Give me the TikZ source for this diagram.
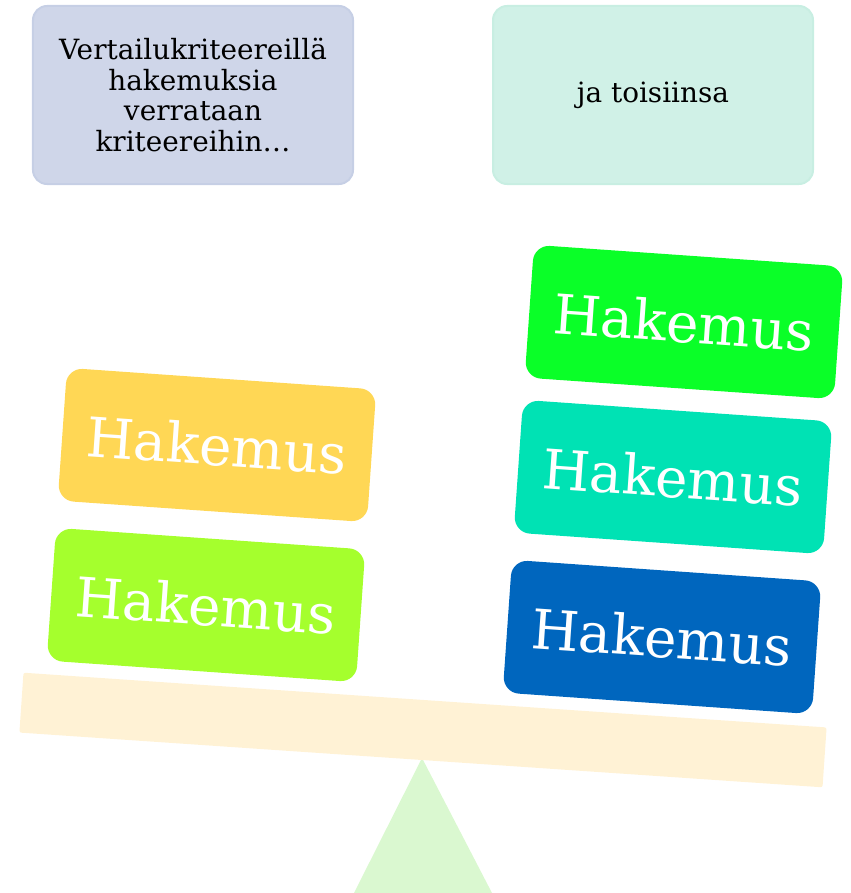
\documentclass[tikz,border=0pt]{standalone}
\usepackage{fontspec}
\setmainfont{DejaVu Serif}
\definecolor{topleft}{RGB}{207,214,233}
\definecolor{topleftrim}{RGB}{198,207,229}
\definecolor{topright}{RGB}{208,241,231}
\definecolor{toprightrim}{RGB}{200,238,226}
\definecolor{hyellow}{RGB}{255,215,85}
\definecolor{hlime}{RGB}{165,255,45}
\definecolor{hgreen}{RGB}{10,255,40}
\definecolor{hteal}{RGB}{0,226,180}
\definecolor{hblue}{RGB}{0,102,190}
\definecolor{beamcol}{RGB}{255,242,213}
\definecolor{basecol}{RGB}{218,248,208}
\begin{document}
\begin{tikzpicture}[x=1bp,y=-1bp,every node/.style={inner sep=0},
  topbox/.style={line width=2bp,rounded corners=14bp,minimum width=320bp,
    minimum height=178bp,align=center,font=\fontsize{28}{31}\selectfont},
  hakemus/.style={fill=#1,rounded corners=16bp,rotate=-4,minimum width=310bp,
    minimum height=133bp,text=white,font=\fontsize{55}{58}\selectfont}]
\useasboundingbox (0,0) rectangle (851,893);

% vaaka
\coordinate (apex) at (422,758);
\fill[basecol] (apex) -- (354,893) -- (492,893) -- cycle;
\node[fill=beamcol,rotate=-3.9,rounded corners=2bp,minimum width=805bp,
  minimum height=60bp] (beam) at (423,730) {};

\node[topbox,fill=topleft,draw=topleftrim] (crit) at (193,95)
  {Vertailukriteereillä\\hakemuksia\\verrataan\\kriteereihin…};
\node[topbox,fill=topright,draw=toprightrim] (each) at (653,95) {ja toisiinsa};

% vasen kuppi
\node[hakemus=hyellow] (h1) at (217,445) {Hakemus};
\node[hakemus=hlime] (h2) at (206,605) {Hakemus};
% oikea kuppi
\node[hakemus=hgreen] (h3) at (684,322) {Hakemus};
\node[hakemus=hteal] (h4) at (673,477) {Hakemus};
\node[hakemus=hblue] (h5) at (662,637) {Hakemus};
\end{tikzpicture}
\end{document}
